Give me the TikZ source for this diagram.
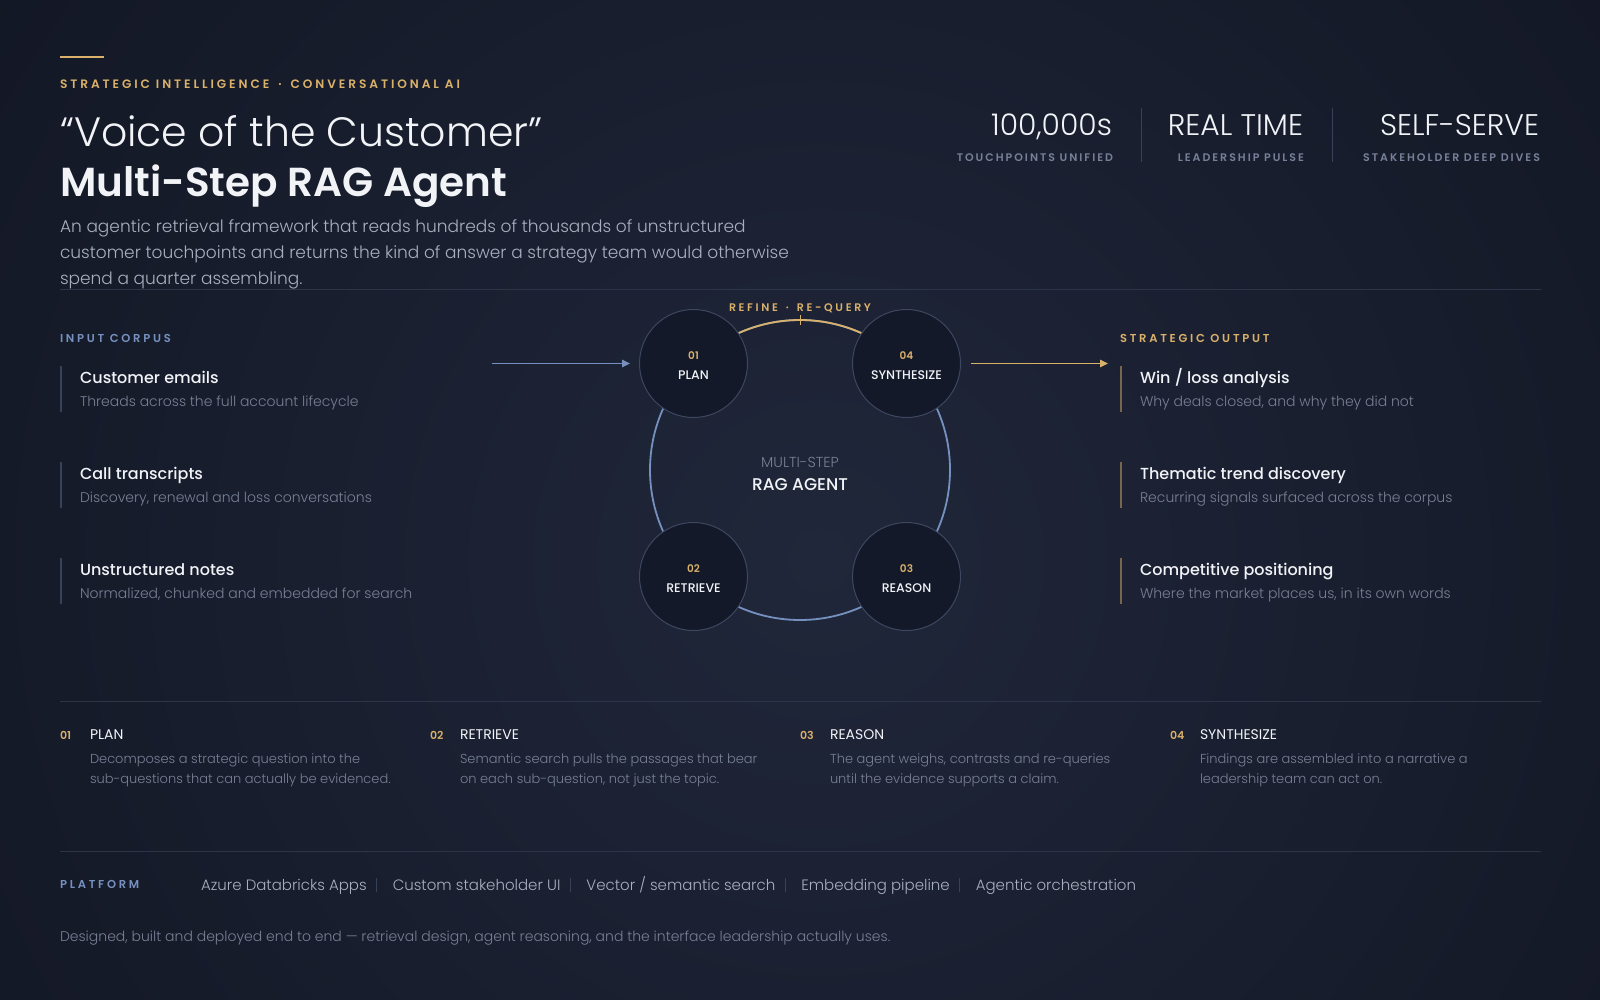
\documentclass[tikz,border=0pt]{standalone}
\usepackage{fontspec}
\usepackage{xcolor}
\usepackage{tikz}
\usetikzlibrary{arrows.meta,positioning,calc}
\setmainfont{Poppins}
\newfontfamily\popL{Poppins Light}
\newfontfamily\popM{Poppins Medium}
\newfontfamily\popSB{Poppins SemiBold}
\newfontfamily\popTrack{Poppins SemiBold}[LetterSpace=18]
\newfontfamily\popTrackW{Poppins SemiBold}[LetterSpace=24]
\definecolor{vcBg}    {RGB}{ 17, 21, 34}
\definecolor{vcBgMid} {RGB}{ 32, 39, 58}
\definecolor{vcGold}  {RGB}{217,177,106}
\definecolor{vcGoldD} {RGB}{120,102, 74}
\definecolor{vcBlue}  {RGB}{118,145,192}
\definecolor{vcBlueD} {RGB}{ 55, 66, 90}
\definecolor{vcRule}  {RGB}{ 44, 52, 72}
\definecolor{vcWhite} {RGB}{241,243,247}
\definecolor{vcText}  {RGB}{168,175,191}
\definecolor{vcMute}  {RGB}{120,128,148}
\definecolor{vcStat}  {RGB}{118,129,153}
\definecolor{vcDisk}  {RGB}{ 19, 25, 40}
\definecolor{vcDiskB} {RGB}{ 60, 71, 96}

\begin{document}
\begin{tikzpicture}[x=1pt,y=-1pt,
  every node/.style={inner sep=0pt,outer sep=0pt,anchor=base west},
  >={Triangle[length=8pt,width=7.5pt]},
  rule/.style={draw=vcRule,line width=1pt},
  kicker/.style={font=\popTrackW\fontsize{12.2}{14}\selectfont,text=vcGold},
  headlt/.style={font=\popL\fontsize{41}{48}\selectfont,text=vcWhite},
  headbd/.style={font=\popSB\fontsize{40.5}{48}\selectfont,text=vcWhite},
  lede/.style={font=\popL\fontsize{17}{25.5}\selectfont,text=vcText},
  statval/.style={anchor=base east,font=\popL\fontsize{29.8}{36}\selectfont,text=vcWhite},
  statcap/.style={anchor=base east,font=\popTrack\fontsize{11}{13}\selectfont,text=vcStat},
  statsep/.style={draw=vcBlueD,line width=1pt},
  seclabel/.style={font=\popTrackW\fontsize{11.5}{13}\selectfont},
  itemhead/.style={font=\popM\fontsize{16}{19}\selectfont,text=vcWhite},
  itemsub/.style={font=\popL\fontsize{14}{17}\selectfont,text=vcMute},
  srcbar/.style={draw=vcBlueD,line width=1.2pt},
  outbar/.style={draw=vcGoldD,line width=1.2pt},
  ringline/.style={line width=1.8pt},
  agentdisk/.style={circle,anchor=center,draw=vcDiskB,line width=1pt,
                    fill=vcDisk,minimum size=108pt},
  disknum/.style={anchor=base,font=\popSB\fontsize{10.5}{12}\selectfont,text=vcGold},
  diskname/.style={anchor=base,font=\popM\fontsize{12.5}{15}\selectfont,text=vcWhite},
  coresub/.style={anchor=base,font=\popL\fontsize{14.5}{17}\selectfont,text=vcMute},
  coremain/.style={anchor=base,font=\popM\fontsize{17}{20}\selectfont,text=vcWhite},
  looplabel/.style={anchor=base,font=\popTrackW\fontsize{11}{13}\selectfont,text=vcGold},
  flowin/.style={->,draw=vcBlue,line width=1.3pt,shorten >=9.5pt},
  flowout/.style={->,draw=vcGold,line width=1.3pt,shorten <=10pt},
  phasenum/.style={font=\popSB\fontsize{11}{13}\selectfont,text=vcGold},
  phasename/.style={font=\fontsize{14}{17}\selectfont,text=vcWhite},
  phasedesc/.style={align=left,font=\popL\fontsize{13}{20}\selectfont,text=vcMute},
  platitem/.style={font=\popL\fontsize{15}{18}\selectfont,text=vcText},
  platsep/.style={draw=vcBlueD,line width=1pt},
  footnote/.style={font=\popL\fontsize{14}{16}\selectfont,text=vcMute}
]
\useasboundingbox (0,0) rectangle (1600,1000);
% background
\fill[vcBg] (0,0) rectangle (1600,1000);
\begin{scope}
  \clip (0,0) rectangle (1600,1000);
  \shade[inner color=vcBgMid,outer color=vcBg] (820,560) circle[radius=1150pt];
\end{scope}

% header
\draw[vcGold,line width=2pt] (60,57) -- (104,57);
\node[kicker] (kicker) at (60,89)
  {STRATEGIC INTELLIGENCE\hspace{9pt}·\hspace{9pt}CONVERSATIONAL AI};
\node[headlt] (head1) at (60,147) {“Voice of the Customer”};
\node[headbd] (head2) at (60,197) {Multi-Step RAG Agent};
\node[lede] (lede1) at (60,233) {An agentic retrieval framework that reads hundreds of thousands of unstructured};
\node[lede] (lede2) at (60,258.5) {customer touchpoints and returns the kind of answer a strategy team would otherwise};
\node[lede] (lede3) at (60,284) {spend a quarter assembling.};

% headline stats
\node[statval] (stat1) at (1112,136) {100,000s};
\node[statcap] (stat1-cap) at (1113,162) {TOUCHPOINTS UNIFIED};
\node[statval] (stat2) at (1303,136) {REAL TIME};
\node[statcap] (stat2-cap) at (1304,162) {LEADERSHIP PULSE};
\node[statval] (stat3) at (1539,136) {SELF-SERVE};
\node[statcap] (stat3-cap) at (1540,162) {STAKEHOLDER DEEP DIVES};
\draw[statsep] (1141.5,108) -- (1141.5,162);
\draw[statsep] (1332.5,108) -- (1332.5,162);

\draw[rule] (60,289) -- (1541,289);

% input corpus
\node[seclabel,text=vcBlue] (corpus) at (60,342) {INPUT CORPUS};
\foreach \i/\t/\s in {0/Customer emails/Threads across the full account lifecycle,
                      1/Call transcripts/{Discovery, renewal and loss conversations},
                      2/Unstructured notes/{Normalized, chunked and embedded for search}}{
  \draw[srcbar] (61,{366+96*\i}) -- ++(0,46);
  \node[itemhead] (src\i) at (80,{383.5+96*\i}) {\t};
  \node[itemsub] (src\i-sub) at (80,{406+96*\i}) {\s};
}

% strategic output
\node[seclabel,text=vcGold] (output) at (1120,342) {STRATEGIC OUTPUT};
\foreach \i/\t/\s in {0/{Win / loss analysis}/{Why deals closed, and why they did not},
                      1/Thematic trend discovery/Recurring signals surfaced across the corpus,
                      2/Competitive positioning/{Where the market places us, in its own words}}{
  \draw[outbar] (1121,{366+96*\i}) -- ++(0,46);
  \node[itemhead] (out\i) at (1140,{383.5+96*\i}) {\t};
  \node[itemsub] (out\i-sub) at (1140,{406+96*\i}) {\s};
}

% agent loop
\coordinate (core) at (800,470);
\draw[ringline,vcBlue] (core) circle[radius=150pt];
\draw[ringline,vcGold] ($(core)+(45:150pt)$) arc[start angle=45,end angle=135,radius=150pt];
\draw[vcGold,line width=1pt] ($(core)+(0,-155)$) -- ++(0,10);
\node[looplabel] (loop) at (800,311) {REFINE\hspace{8pt}·\hspace{8pt}RE-QUERY};
\node[coresub] (core-sub) at (800,467) {MULTI-STEP};
\node[coremain] (core-main) at (800,490) {RAG AGENT};

\node[agentdisk] (plan)     at (693.5,363.5) {};
\node[agentdisk] (retrieve) at (693.5,576.5) {};
\node[agentdisk] (reason)   at (906.5,576.5) {};
\node[agentdisk] (synth)    at (906.5,363.5) {};
\foreach \n/\num/\lab in {plan/01/PLAN,retrieve/02/RETRIEVE,reason/03/REASON,synth/04/SYNTHESIZE}{
  \node[disknum] (\n-num) at ($(\n)+(0,-4.5)$) {\num};
  \node[diskname] (\n-name) at ($(\n)+(0,16)$) {\lab};
}

\coordinate (corpus-feed) at (492,363.5);
\coordinate (output-feed) at (1108,363.5);
\draw[flowin] (corpus-feed) -- (plan);
\draw[flowout] (synth) -- (output-feed);

% phases
\draw[rule] (60,701) -- (1541,701);
\foreach \i/\num/\name/\desc in {
  0/01/PLAN/{Decomposes a strategic question into the\\sub-questions that can actually be evidenced.},
  1/02/RETRIEVE/{Semantic search pulls the passages that bear\\on each sub-question, not just the topic.},
  2/03/REASON/{The agent weighs, contrasts and re-queries\\until the evidence supports a claim.},
  3/04/SYNTHESIZE/{Findings are assembled into a narrative a\\leadership team can act on.}}{
  \node[phasenum] (phase\i-num) at ({60+370*\i},739) {\num};
  \node[phasename] (phase\i) at ({90+370*\i},739) {\name};
  \node[phasedesc] (phase\i-desc) at ({90+370*\i},783) {\desc};
}

% platform
\draw[rule] (60,851) -- (1541,851);
\node[seclabel,text=vcBlue] (platform) at (60,888) {PLATFORM};
\node[platitem] (plat1) at (201,890) {Azure Databricks Apps};
\node[platitem,base right=26pt of plat1] (plat2) {Custom stakeholder UI};
\node[platitem,base right=26pt of plat2] (plat3) {Vector / semantic search};
\node[platitem,base right=26pt of plat3] (plat4) {Embedding pipeline};
\node[platitem,base right=26pt of plat4] (plat5) {Agentic orchestration};
\foreach \a in {plat1,plat2,plat3,plat4}
  \draw[platsep] ($(\a.base east)+(10,-12)$) -- ++(0,14);

\node[footnote] (credit) at (60,941) {Designed, built and deployed end to end — retrieval design, agent reasoning, and the interface leadership actually uses.};
\end{tikzpicture}
\end{document}
